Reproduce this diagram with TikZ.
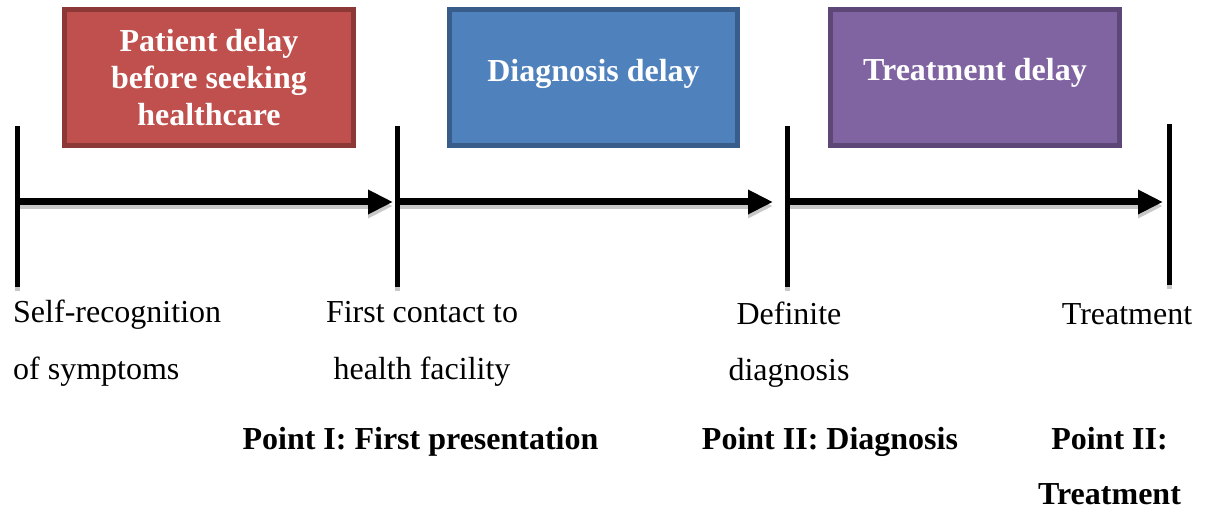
\documentclass[tikz,border=0pt]{standalone}
\usepackage{fontspec}
\setmainfont{Liberation Serif}
\usetikzlibrary{arrows.meta}
\definecolor{redfill}{HTML}{C0504D}
\definecolor{redline}{HTML}{8C3836}
\definecolor{bluefill}{HTML}{4F81BD}
\definecolor{blueline}{HTML}{385D8A}
\definecolor{purplefill}{HTML}{8064A2}
\definecolor{purpleline}{HTML}{5C4776}
\definecolor{shadowgrey}{HTML}{C8C8C8}
\begin{document}
\begin{tikzpicture}[x=1pt,y=-1pt,
  delaybox/.style={line width=5pt, minimum width=289pt, minimum height=136pt, inner sep=0pt},
  boxtext/.style={text=white, font=\fontsize{32}{37}\selectfont\bfseries, inner sep=0pt, anchor=base},
  lbl/.style={font=\fontsize{32}{56}\selectfont, inner sep=0pt, anchor=base},
  blbl/.style={font=\fontsize{32}{56}\selectfont\bfseries, inner sep=0pt, anchor=base},
  tick/.style={line width=5pt},
  timeline/.style={line width=7pt, -{Triangle[width=23pt,length=25pt]}},
  shade/.style={draw=shadowgrey, transform canvas={yshift=-4pt}}]
\path[use as bounding box] (0,0) rectangle (1208,513);

% boxes
\node[delaybox, draw=redline, fill=redfill] (pd) at (209,77.5) {};
\node[delaybox, draw=blueline, fill=bluefill, minimum width=288pt] (dd) at (593.5,77.5) {};
\node[delaybox, draw=purpleline, fill=purplefill] (td) at (975,77.5) {};
\node[boxtext] (pd1) at (209,52) {Patient delay};
\node[boxtext] (pd2) at (209,89) {before seeking};
\node[boxtext] (pd3) at (209,126) {healthcare};
\node[boxtext] (dd1) at (593.5,82) {Diagnosis delay};
\node[boxtext] (td1) at (975,81) {Treatment delay};

% tick coordinates
\coordinate (t1a) at (17,126);   \coordinate (t1b) at (17,287);
\coordinate (t2a) at (397,126);  \coordinate (t2b) at (397,287);
\coordinate (t3a) at (787,126);  \coordinate (t3b) at (787,287);
\coordinate (t4a) at (1169.5,124); \coordinate (t4b) at (1169.5,285);
\coordinate (m1) at (17,202);
\coordinate (m2) at (397,202);
\coordinate (m3) at (787,202);
\coordinate (m4) at (1169.5,202);

% shadows
\draw[shade, tick] (t1a) -- (t1b);
\draw[shade, tick] (t2a) -- (t2b);
\draw[shade, tick] (t3a) -- (t3b);
\draw[shade, tick] (t4a) -- (t4b);
\draw[shade, timeline, shorten >=4pt] (m1) -- (m2);
\draw[shade, timeline, shorten >=14pt] (m2) -- (m3);
\draw[shade, timeline, shorten >=6.5pt] (m3) -- (m4);

% ticks and arrows
\draw[tick] (t1a) -- (t1b);
\draw[tick] (t2a) -- (t2b);
\draw[tick] (t3a) -- (t3b);
\draw[tick] (t4a) -- (t4b);
\draw[timeline, shorten >=4pt] (m1) -- (m2);
\draw[timeline, shorten >=14pt] (m2) -- (m3);
\draw[timeline, shorten >=6.5pt] (m3) -- (m4);

% labels
\node[lbl, anchor=base west] (s1) at (13,323) {Self-recognition};
\node[lbl, anchor=base west] (s2) at (13,379) {of symptoms};
\node[lbl] (f1) at (422,323) {First contact to};
\node[lbl] (f2) at (422,379) {health facility};
\node[lbl] (d1) at (789,324) {Definite};
\node[lbl] (d2) at (789,380) {diagnosis};
\node[lbl] (tr) at (1127,324) {Treatment};
\node[blbl] (p1) at (420.5,449) {Point I: First presentation};
\node[blbl] (p2) at (830,449) {Point II: Diagnosis};
\node[blbl] (p3a) at (1109.5,449) {Point II:};
\node[blbl] (p3b) at (1109.5,504) {Treatment};
\end{tikzpicture}
\end{document}
